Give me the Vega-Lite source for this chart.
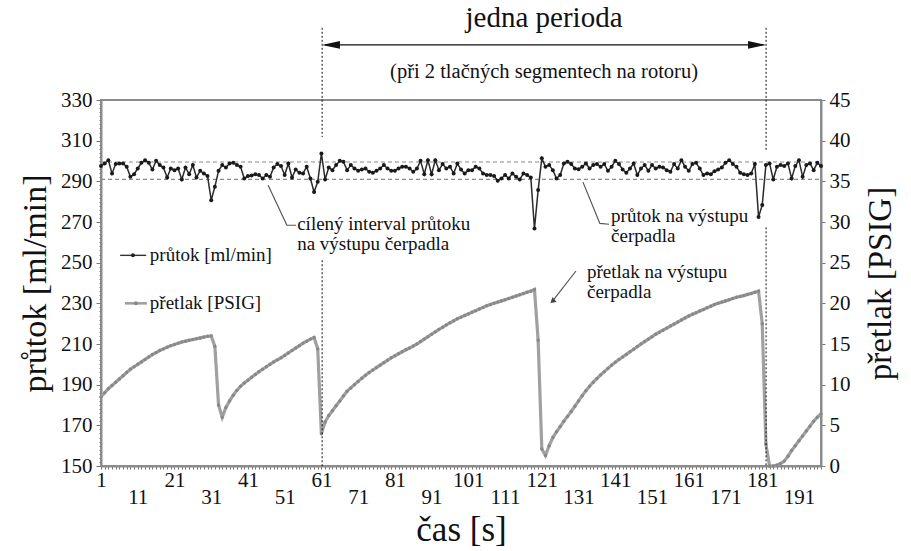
{
"$schema": "https://vega.github.io/schema/vega-lite/v6.json",
"width": 720,
"height": 366,
"autosize": {"type": "none"},
"padding": {"left": 101, "top": 100, "right": 90, "bottom": 85},
"background": "white",
"config": {
  "font": "Liberation Serif",
  "view": {"stroke": "#8c8c8c", "strokeWidth": 2},
  "axis": {"grid": false, "labelFont": "Liberation Serif", "titleFont": "Liberation Serif", "labelColor": "#111", "titleColor": "#111", "titleFontWeight": "normal", "domainColor": "#8c8c8c", "domainWidth": 2, "tickColor": "#777", "labelOverlap": false, "labelFlush": false, "labelBound": false},
  "text": {"font": "Liberation Serif"}
},
"datasets": {
  "flow": [
{"t":1,"v":297.5},{"t":2,"v":298.8},{"t":3,"v":300.4},{"t":4,"v":293.9},{"t":5,"v":298.5},{"t":6,"v":298.8},{"t":7,"v":298.8},{"t":8,"v":297.2},{"t":9,"v":292.2},{"t":10,"v":293.5},
{"t":11,"v":296.3},{"t":12,"v":299.1},{"t":13,"v":300.4},{"t":14,"v":299.1},{"t":15,"v":295.8},{"t":16,"v":300.1},{"t":17,"v":298},{"t":18,"v":296.8},{"t":19,"v":291.9},{"t":20,"v":296.3},
{"t":21,"v":295.5},{"t":22,"v":296.3},{"t":23,"v":290.9},{"t":24,"v":296.8},{"t":25,"v":293.5},{"t":26,"v":298},{"t":27,"v":291.9},{"t":28,"v":295.2},{"t":29,"v":293.9},{"t":30,"v":292.6},
{"t":31,"v":280.7},{"t":32,"v":287.3},{"t":33,"v":295.2},{"t":34,"v":298},{"t":35,"v":296.8},{"t":36,"v":298.8},{"t":37,"v":299.1},{"t":38,"v":298},{"t":39,"v":297.2},{"t":40,"v":291.4},
{"t":41,"v":292.6},{"t":42,"v":292.9},{"t":43,"v":293.5},{"t":44,"v":293.1},{"t":45,"v":291.4},{"t":46,"v":293.1},{"t":47,"v":292.2},{"t":48,"v":296.8},{"t":49,"v":298.5},{"t":50,"v":297.5},
{"t":51,"v":293.1},{"t":52,"v":298.8},{"t":53,"v":291.9},{"t":54,"v":295.8},{"t":55,"v":294.2},{"t":56,"v":293.9},{"t":57,"v":297.2},{"t":58,"v":291.4},{"t":59,"v":284.8},{"t":60,"v":289.8},
{"t":61,"v":303.7},{"t":62,"v":290.9},{"t":63,"v":296.8},{"t":64,"v":295.5},{"t":65,"v":298},{"t":66,"v":300.1},{"t":67,"v":299.6},{"t":68,"v":295.5},{"t":69,"v":298},{"t":70,"v":296.3},
{"t":71,"v":295.2},{"t":72,"v":295.8},{"t":73,"v":296.3},{"t":74,"v":294.7},{"t":75,"v":294.2},{"t":76,"v":295.2},{"t":77,"v":296.3},{"t":78,"v":298},{"t":79,"v":296.3},{"t":80,"v":295.2},
{"t":81,"v":295.2},{"t":82,"v":296.3},{"t":83,"v":297.2},{"t":84,"v":297.2},{"t":85,"v":296.3},{"t":86,"v":294.7},{"t":87,"v":296.3},{"t":88,"v":300.1},{"t":89,"v":293.5},{"t":90,"v":300.4},
{"t":91,"v":293.5},{"t":92,"v":300.4},{"t":93,"v":295.5},{"t":94,"v":298.5},{"t":95,"v":296.3},{"t":96,"v":297.2},{"t":97,"v":293.9},{"t":98,"v":298.8},{"t":99,"v":295.8},{"t":100,"v":293.9},
{"t":101,"v":295.5},{"t":102,"v":295.5},{"t":103,"v":297.2},{"t":104,"v":296.3},{"t":105,"v":293.9},{"t":106,"v":293.1},{"t":107,"v":293.1},{"t":108,"v":292.6},{"t":109,"v":290.3},{"t":110,"v":291.4},
{"t":111,"v":293.1},{"t":112,"v":291.4},{"t":113,"v":293.9},{"t":114,"v":292.2},{"t":115,"v":290.9},{"t":116,"v":293.9},{"t":117,"v":293.1},{"t":118,"v":291.9},{"t":119,"v":266.8},{"t":120,"v":285.7},
{"t":121,"v":301.3},{"t":122,"v":297.2},{"t":123,"v":298},{"t":124,"v":295.5},{"t":125,"v":291.4},{"t":126,"v":293.1},{"t":127,"v":298.8},{"t":128,"v":299.6},{"t":129,"v":298.5},{"t":130,"v":296.3},
{"t":131,"v":296},{"t":132,"v":297.2},{"t":133,"v":298.8},{"t":134,"v":296.3},{"t":135,"v":298},{"t":136,"v":298.5},{"t":137,"v":297.2},{"t":138,"v":298.5},{"t":139,"v":295.2},{"t":140,"v":297.2},
{"t":141,"v":300.1},{"t":142,"v":298.5},{"t":143,"v":295.8},{"t":144,"v":294.2},{"t":145,"v":296.3},{"t":146,"v":298.8},{"t":147,"v":293.1},{"t":148,"v":296.3},{"t":149,"v":298},{"t":150,"v":295.2},
{"t":151,"v":298},{"t":152,"v":296.3},{"t":153,"v":297.2},{"t":154,"v":296.8},{"t":155,"v":295.5},{"t":156,"v":294.7},{"t":157,"v":298.5},{"t":158,"v":296.3},{"t":159,"v":300.4},{"t":160,"v":297.2},
{"t":161,"v":295.2},{"t":162,"v":298.5},{"t":163,"v":299.1},{"t":164,"v":296.3},{"t":165,"v":293.1},{"t":166,"v":293.9},{"t":167,"v":293.5},{"t":168,"v":294.9},{"t":169,"v":295.8},{"t":170,"v":296.8},
{"t":171,"v":299.1},{"t":172,"v":300.4},{"t":173,"v":298.5},{"t":174,"v":297.2},{"t":175,"v":294.2},{"t":176,"v":293.5},{"t":177,"v":293.1},{"t":178,"v":293.9},{"t":179,"v":298.5},{"t":180,"v":272.5},
{"t":181,"v":278.3},{"t":182,"v":298},{"t":183,"v":298.8},{"t":184,"v":290.9},{"t":185,"v":297.2},{"t":186,"v":298},{"t":187,"v":297.5},{"t":188,"v":298.8},{"t":189,"v":291.4},{"t":190,"v":297.5},
{"t":191,"v":300.4},{"t":192,"v":292.2},{"t":193,"v":298},{"t":194,"v":298.8},{"t":195,"v":295.5},{"t":196,"v":299.1},{"t":197,"v":297.5}
  ],
  "pressure": [
{"t":1,"p":8.5},{"t":2,"p":9.0},{"t":3,"p":9.5},{"t":4,"p":9.9},{"t":5,"p":10.3},{"t":6,"p":10.7},{"t":7,"p":11.1},{"t":8,"p":11.5},{"t":9,"p":11.9},{"t":10,"p":12.2},
{"t":11,"p":12.5},{"t":12,"p":12.8},{"t":13,"p":13.1},{"t":14,"p":13.4},{"t":15,"p":13.7},{"t":16,"p":13.95},{"t":17,"p":14.2},{"t":18,"p":14.4},{"t":19,"p":14.6},{"t":20,"p":14.8},
{"t":21,"p":14.95},{"t":22,"p":15.1},{"t":23,"p":15.25},{"t":24,"p":15.35},{"t":25,"p":15.45},{"t":26,"p":15.55},{"t":27,"p":15.65},{"t":28,"p":15.75},{"t":29,"p":15.85},{"t":30,"p":15.95},
{"t":31,"p":16.0},{"t":32,"p":14.7},{"t":33,"p":7.5},{"t":34,"p":6.0},{"t":35,"p":7.2},{"t":36,"p":8.0},{"t":37,"p":8.7},{"t":38,"p":9.3},{"t":39,"p":9.8},{"t":40,"p":10.2},
{"t":41,"p":10.55},{"t":42,"p":10.9},{"t":43,"p":11.25},{"t":44,"p":11.6},{"t":45,"p":11.9},{"t":46,"p":12.2},{"t":47,"p":12.5},{"t":48,"p":12.8},{"t":49,"p":13.05},{"t":50,"p":13.3},
{"t":51,"p":13.6},{"t":52,"p":13.9},{"t":53,"p":14.2},{"t":54,"p":14.5},{"t":55,"p":14.8},{"t":56,"p":15.1},{"t":57,"p":15.35},{"t":58,"p":15.6},{"t":59,"p":15.8},{"t":60,"p":14.4},
{"t":61,"p":3.95},{"t":62,"p":5.4},{"t":63,"p":6.2},{"t":64,"p":6.8},{"t":65,"p":7.4},{"t":66,"p":8.0},{"t":67,"p":8.6},{"t":68,"p":9.2},{"t":69,"p":9.6},{"t":70,"p":10.0},
{"t":71,"p":10.4},{"t":72,"p":10.8},{"t":73,"p":11.15},{"t":74,"p":11.5},{"t":75,"p":11.8},{"t":76,"p":12.1},{"t":77,"p":12.4},{"t":78,"p":12.7},{"t":79,"p":13.0},{"t":80,"p":13.3},
{"t":81,"p":13.55},{"t":82,"p":13.8},{"t":83,"p":14.05},{"t":84,"p":14.3},{"t":85,"p":14.5},{"t":86,"p":14.75},{"t":87,"p":15.0},{"t":88,"p":15.3},{"t":89,"p":15.6},{"t":90,"p":15.9},
{"t":91,"p":16.2},{"t":92,"p":16.5},{"t":93,"p":16.8},{"t":94,"p":17.05},{"t":95,"p":17.35},{"t":96,"p":17.6},{"t":97,"p":17.85},{"t":98,"p":18.1},{"t":99,"p":18.3},{"t":100,"p":18.5},
{"t":101,"p":18.7},{"t":102,"p":18.9},{"t":103,"p":19.1},{"t":104,"p":19.3},{"t":105,"p":19.5},{"t":106,"p":19.7},{"t":107,"p":19.85},{"t":108,"p":20.0},{"t":109,"p":20.15},{"t":110,"p":20.3},
{"t":111,"p":20.45},{"t":112,"p":20.6},{"t":113,"p":20.75},{"t":114,"p":20.9},{"t":115,"p":21.05},{"t":116,"p":21.2},{"t":117,"p":21.35},{"t":118,"p":21.5},{"t":119,"p":21.7},{"t":120,"p":15.45},
{"t":121,"p":2.1},{"t":122,"p":1.3},{"t":123,"p":2.5},{"t":124,"p":3.5},{"t":125,"p":4.2},{"t":126,"p":4.85},{"t":127,"p":5.5},{"t":128,"p":6.1},{"t":129,"p":6.7},{"t":130,"p":7.35},
{"t":131,"p":8.0},{"t":132,"p":8.65},{"t":133,"p":9.25},{"t":134,"p":9.8},{"t":135,"p":10.3},{"t":136,"p":10.75},{"t":137,"p":11.2},{"t":138,"p":11.6},{"t":139,"p":12.0},{"t":140,"p":12.4},
{"t":141,"p":12.75},{"t":142,"p":13.1},{"t":143,"p":13.4},{"t":144,"p":13.72},{"t":145,"p":14.04},{"t":146,"p":14.36},{"t":147,"p":14.68},{"t":148,"p":15.0},{"t":149,"p":15.3},{"t":150,"p":15.6},
{"t":151,"p":15.9},{"t":152,"p":16.2},{"t":153,"p":16.45},{"t":154,"p":16.7},{"t":155,"p":16.95},{"t":156,"p":17.2},{"t":157,"p":17.45},{"t":158,"p":17.7},{"t":159,"p":17.95},{"t":160,"p":18.2},
{"t":161,"p":18.45},{"t":162,"p":18.65},{"t":163,"p":18.85},{"t":164,"p":19.05},{"t":165,"p":19.25},{"t":166,"p":19.45},{"t":167,"p":19.65},{"t":168,"p":19.85},{"t":169,"p":20.0},{"t":170,"p":20.15},
{"t":171,"p":20.3},{"t":172,"p":20.45},{"t":173,"p":20.6},{"t":174,"p":20.75},{"t":175,"p":20.85},{"t":176,"p":20.95},{"t":177,"p":21.1},{"t":178,"p":21.2},{"t":179,"p":21.35},{"t":180,"p":21.5},
{"t":181,"p":17.5},{"t":182,"p":2.7},{"t":183,"p":0},{"t":184,"p":0},{"t":185,"p":0.1},{"t":186,"p":0.3},{"t":187,"p":0.6},{"t":188,"p":1.2},{"t":189,"p":1.9},{"t":190,"p":2.5},
{"t":191,"p":3.1},{"t":192,"p":3.7},{"t":193,"p":4.3},{"t":194,"p":4.9},{"t":195,"p":5.5},{"t":196,"p":6.0},{"t":197,"p":6.4}
  ]
},
"encoding": {
  "x": {"field": "t", "type": "quantitative",
    "scale": {"domain": [1, 197], "nice": false, "zero": false},
    "axis": {"title": "čas [s]", "tickCount": 196, "tickSize": 3, "tickWidth": 1,
      "labelExpr": "(datum.value - 1) % 10 === 0 && datum.value <= 191 ? datum.label : ''",
      "labelPadding": {"condition": {"test": "(datum.value - 1) % 20 === 10", "value": 17}, "value": 0},
      "labelFontSize": 21, "titleFontSize": 35, "titlePadding": 5}}
},
"layer": [
  {"data": {"values": [{"t": 1, "t2": 197, "v": 291}, {"t": 1, "t2": 197, "v": 299.5}]},
   "mark": {"type": "rule", "strokeDash": [4, 3], "color": "#8a8a8a", "strokeWidth": 1.2},
   "encoding": {"x2": {"field": "t2"}, "y": {"field": "v", "type": "quantitative", "scale": {"domain": [150, 330], "nice": false, "zero": false}, "axis": null}}},
  {"data": {"name": "pressure"},
   "mark": {"type": "line", "color": "#a0a0a0", "strokeWidth": 3.2, "point": {"filled": true, "size": 12, "color": "#888888"}},
   "encoding": {"y": {"field": "p", "type": "quantitative", "scale": {"domain": [0, 45], "nice": false, "zero": false},
     "axis": {"title": "přetlak [PSIG]", "orient": "right", "values": [0, 5, 10, 15, 20, 25, 30, 35, 40, 45], "labelFontSize": 21, "tickSize": 4, "labelPadding": 4, "titleFontSize": 33, "titleAngle": -90, "titleBaseline": "top", "titlePadding": 14}}}},
  {"data": {"name": "flow"},
   "mark": {"type": "line", "color": "#2a2a2a", "strokeWidth": 1.5, "point": {"filled": true, "size": 16, "color": "#1a1a1a"}},
   "encoding": {"y": {"field": "v", "type": "quantitative", "scale": {"domain": [150, 330], "nice": false, "zero": false},
     "axis": {"title": "průtok [ml/min]", "orient": "left", "tickCount": 90,
       "labelExpr": "datum.value % 20 === 10 ? datum.label : ''",
       "tickSize": {"condition": {"test": "datum.value % 20 === 10", "value": 5}, "value": 2},
       "labelFontSize": 21, "labelPadding": 4, "titleFontSize": 34, "titlePadding": 8}}}},
  {"data": {"values": [{"t": 61.2, "v": 365.5, "v2": 311.8}, {"t": 61.2, "v": 251.2, "v2": 150}, {"t": 182.05, "v": 365.5, "v2": 305.4}, {"t": 182.05, "v": 267.4, "v2": 150}]},
   "mark": {"type": "rule", "strokeDash": [2, 2], "color": "#111", "strokeWidth": 1},
   "encoding": {"y": {"field": "v", "type": "quantitative", "scale": {"domain": [150, 330], "nice": false, "zero": false}, "axis": null}, "y2": {"field": "v2"}}},
  {"data": {"values": [{"t": 62, "t2": 181.3, "v": 357.1}]},
   "mark": {"type": "rule", "color": "#111", "strokeWidth": 1.4},
   "encoding": {"x2": {"field": "t2"}, "y": {"field": "v", "type": "quantitative", "scale": {"domain": [150, 330], "nice": false, "zero": false}, "axis": null}}},
  {"data": {"values": [{"t": 63.6, "v": 357.1}]},
   "mark": {"type": "point", "shape": "M -1 0 L 1 -0.42 L 1 0.42 Z", "filled": true, "color": "#111", "size": 324, "opacity": 1},
   "encoding": {"y": {"field": "v", "type": "quantitative", "scale": {"domain": [150, 330], "nice": false, "zero": false}, "axis": null}}},
  {"data": {"values": [{"t": 179.6, "v": 357.1}]},
   "mark": {"type": "point", "shape": "M 1 0 L -1 -0.42 L -1 0.42 Z", "filled": true, "color": "#111", "size": 324, "opacity": 1},
   "encoding": {"y": {"field": "v", "type": "quantitative", "scale": {"domain": [150, 330], "nice": false, "zero": false}, "axis": null}}},
  {"data": {"values": [
     {"t": 46.5, "v": 288.1, "g": "a", "o": 1}, {"t": 51.6, "v": 268.4, "g": "a", "o": 2}, {"t": 54.1, "v": 268.4, "g": "a", "o": 3},
     {"t": 132.2, "v": 289.6, "g": "b", "o": 1}, {"t": 136.8, "v": 269.3, "g": "b", "o": 2}, {"t": 139.3, "v": 268.9, "g": "b", "o": 3},
     {"t": 130.3, "v": 245.9, "g": "c", "o": 1}, {"t": 123.8, "v": 230.8, "g": "c", "o": 2}]},
   "mark": {"type": "line", "color": "#555", "strokeWidth": 1.2},
   "encoding": {"y": {"field": "v", "type": "quantitative", "scale": {"domain": [150, 330], "nice": false, "zero": false}, "axis": null}, "detail": {"field": "g"}, "order": {"field": "o"}}},
  {"data": {"values": [{"t": 123.9, "v": 231.0}]},
   "mark": {"type": "point", "shape": "triangle-up", "angle": 230, "filled": true, "color": "#444", "size": 40, "opacity": 1},
   "encoding": {"y": {"field": "v", "type": "quantitative", "scale": {"domain": [150, 330], "nice": false, "zero": false}, "axis": null}}},
  {"data": {"values": [{"t": 6.2, "t2": 13.3, "v": 253.6}]},
   "mark": {"type": "rule", "color": "#333", "strokeWidth": 1.4},
   "encoding": {"x2": {"field": "t2"}, "y": {"field": "v", "type": "quantitative", "scale": {"domain": [150, 330], "nice": false, "zero": false}, "axis": null}}},
  {"data": {"values": [{"t": 9.7, "v": 253.6}]},
   "mark": {"type": "point", "filled": true, "color": "#222", "size": 16, "opacity": 1},
   "encoding": {"y": {"field": "v", "type": "quantitative", "scale": {"domain": [150, 330], "nice": false, "zero": false}, "axis": null}}},
  {"data": {"values": [{"t": 7.5, "t2": 13.5, "v": 230}]},
   "mark": {"type": "rule", "color": "#a0a0a0", "strokeWidth": 2.6},
   "encoding": {"x2": {"field": "t2"}, "y": {"field": "v", "type": "quantitative", "scale": {"domain": [150, 330], "nice": false, "zero": false}, "axis": null}}},
  {"data": {"values": [{"t": 10.5, "v": 230}]},
   "mark": {"type": "point", "filled": true, "color": "#888", "size": 16, "opacity": 1},
   "encoding": {"y": {"field": "v", "type": "quantitative", "scale": {"domain": [150, 330], "nice": false, "zero": false}, "axis": null}}},
  {"data": {"values": [
     {"t": 54.4, "v": 268.8, "label": "cílený interval průtoku"},
     {"t": 54.4, "v": 259.4, "label": "na výstupu čerpadla"},
     {"t": 139.85, "v": 272.8, "label": "průtok na výstupu"},
     {"t": 139.85, "v": 263.0, "label": "čerpadla"},
     {"t": 133.3, "v": 245.5, "label": "přetlak na výstupu"},
     {"t": 133.3, "v": 235.4, "label": "čerpadla"},
     {"t": 14.3, "v": 253.6, "label": "průtok [ml/min]"},
     {"t": 14.3, "v": 230, "label": "přetlak [PSIG]"}]},
   "mark": {"type": "text", "align": "left", "baseline": "middle", "fontSize": 19, "color": "#111", "font": "Liberation Serif"},
   "encoding": {"y": {"field": "v", "type": "quantitative", "scale": {"domain": [150, 330], "nice": false, "zero": false}, "axis": null}, "text": {"field": "label"}}},
  {"data": {"values": [{"t": 121.6, "v": 370.4, "label": "jedna perioda"}]},
   "mark": {"type": "text", "align": "center", "baseline": "middle", "fontSize": 29, "color": "#111", "font": "Liberation Serif"},
   "encoding": {"y": {"field": "v", "type": "quantitative", "scale": {"domain": [150, 330], "nice": false, "zero": false}, "axis": null}, "text": {"field": "label"}}},
  {"data": {"values": [{"t": 121.6, "v": 343.8, "label": "(při 2 tlačných segmentech na rotoru)"}]},
   "mark": {"type": "text", "align": "center", "baseline": "middle", "fontSize": 20.5, "color": "#111", "font": "Liberation Serif"},
   "encoding": {"y": {"field": "v", "type": "quantitative", "scale": {"domain": [150, 330], "nice": false, "zero": false}, "axis": null}, "text": {"field": "label"}}}
],
"resolve": {"scale": {"y": "independent"}}
}
